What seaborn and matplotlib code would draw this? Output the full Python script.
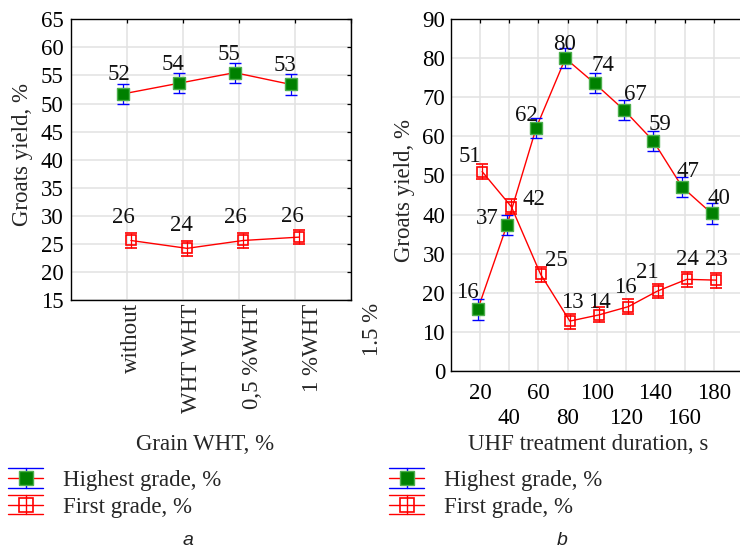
import numpy as np
import pandas as pd
import matplotlib
matplotlib.use("Agg")
import matplotlib.pyplot as plt
import matplotlib.transforms as mtransforms
from matplotlib.legend_handler import HandlerBase
from matplotlib.lines import Line2D
import seaborn as sns

# ---------------- data ----------------
# panel a
wht_labels = ["without", "WHT WHT", "0,5 %WHT", "1 %WHT", "1.5 %"]
wht_pos = [1, 2, 3, 4]
a_highest = [51.7, 53.6, 55.5, 53.4]
a_highest_err = [1.8, 1.8, 1.8, 1.8]
a_highest_text = ["52", "54", "55", "53"]
a_first = [25.6, 24.2, 25.6, 26.2]
a_first_err = [1.3, 1.3, 1.3, 1.3]
a_first_text = ["26", "24", "26", "26"]

# panel b
uhf_time = [20, 40, 60, 80, 100, 120, 140, 160, 180]
b_highest = [15.7, 37.3, 62.2, 80.0, 73.6, 66.8, 58.9, 47.0, 40.3]
b_highest_err = [2.6, 2.6, 2.6, 2.6, 2.6, 2.6, 2.6, 2.6, 2.6]
b_highest_text = ["16", "37", "62", "80", "74", "67", "59", "47", "40"]
b_first = [51.0, 42.0, 24.7, 12.7, 14.3, 16.4, 20.4, 23.4, 23.2]
b_first_err = [1.9, 1.9, 1.9, 1.9, 1.9, 1.9, 1.9, 1.9, 1.9]
b_first_text = ["51", "42", "25", "13", "14", "16", "21", "24", "23"]

series_names = ["Highest grade, %", "First grade, %"]

# ---------------- layout (label offsets in pixels) ----------------
a_highest_off = [(-4, -22.3), (-5.4, -21.6), (-5.8, -20.7), (-5.8, -21.3)]
a_first_off = [(-8, -25.4), (-6, -25), (-7.6, -25.4), (-7, -23.5)]
b_highest_off = [(-10, -19.3), (-20, -9.3), (-10.2, -14.4), (-0.7, -16.6), (8.7, -20),
                 (11, -17.7), (7.2, -18.4), (5.7, -18.3), (7.7, -17.6)]
b_first_off = [(-12.5, -17.4), (22.6, -10), (15.5, -16.6), (2.2, -21), (0.7, -15),
               (-3.2, -21.7), (-9.7, -21), (1, -22.6), (0.3, -23.3)]

W, H = 740, 549
FS = 16.5
sns.set_style("white")
plt.rcParams['font.family'] = ['Liberation Serif', 'DejaVu Serif']
plt.rcParams['axes.linewidth'] = 1.0

fig = plt.figure(figsize=(W / 100, H / 100), dpi=100)


def px_axes(x0, y0, x1, y1):
    return fig.add_axes([x0 / W, 1 - y1 / H, (x1 - x0) / W, (y1 - y0) / H])


axA = px_axes(70.7, 19.3, 351.0, 300.0)
axB = px_axes(450.7, 19.3, 743.0, 370.7)

GREEN_FACE = '#008000'
GREEN_EDGE = '#4cae4c'
BLUE = '#0000ff'
RED = '#ff0000'


def draw_series(ax, x, y, err, kind, texts, offs):
    df = pd.DataFrame({"x": x, "y": y})
    sns.lineplot(data=df, x="x", y="y", ax=ax, color=RED, lw=1.0, zorder=3,
                 estimator=None, sort=False)
    if kind == "highest":
        ax.errorbar(x, y, yerr=err, fmt='s', ms=8, mfc=GREEN_FACE, mec=GREEN_EDGE,
                    mew=1.0, ecolor=BLUE, elinewidth=0.9, capsize=4.5, capthick=0.9,
                    zorder=4)
    else:
        ax.errorbar(x, y, yerr=err, fmt='s', ms=7.5, mfc='none', mec=RED,
                    mew=1.2, ecolor=RED, elinewidth=0.9, capsize=4.5, capthick=0.9,
                    zorder=4)
    for xi, yi, t, (dx, dy) in zip(x, y, texts, offs):
        ax.annotate(t, (xi, yi), xytext=(dx * 0.72, -dy * 0.72), textcoords='offset points',
                    ha='center', va='center_baseline', fontsize=FS, color='#111111', zorder=6)


def style_axes(ax):
    for s in ax.spines.values():
        s.set_color('black')
        s.set_linewidth(1.0)
    ax.tick_params(direction='in', length=3, width=0.9, top=True, right=True,
                   labelsize=FS, colors='black', which='both')
    ax.set_xlabel("")
    ax.set_ylabel("")
    ax.set_axisbelow(True)


# ---------------- panel a ----------------
dA = 0.075
draw_series(axA, [p - dA for p in wht_pos], a_highest, a_highest_err, "highest",
            a_highest_text, a_highest_off)
draw_series(axA, [p + dA for p in wht_pos], a_first, a_first_err, "first",
            a_first_text, a_first_off)
axA.set_xlim(0, 5)
axA.set_ylim(15, 65)
axA.set_yticks(np.arange(15, 66, 5))
axA.set_xticks([1, 2, 3, 4, 5])
axA.grid(True, color='#e2e2e2', lw=1.1)
style_axes(axA)
axA.tick_params(axis='x', labelbottom=False)
axA.tick_params(axis='y', pad=5)
trA = mtransforms.blended_transform_factory(axA.transData, axA.transAxes) + \
    mtransforms.ScaledTranslation(0, -3.3 / 100, fig.dpi_scale_trans)
for i, lab in enumerate(wht_labels):
    axA.text(1.088 + 1.075 * i, 0, lab, transform=trA, rotation=90, ha='center', va='top',
             fontsize=FS, clip_on=False)

# ---------------- panel b ----------------
dB = 1.5
draw_series(axB, [t - dB for t in uhf_time], b_highest, b_highest_err, "highest",
            b_highest_text, b_highest_off)
draw_series(axB, [t + dB for t in uhf_time], b_first, b_first_err, "first",
            b_first_text, b_first_off)
axB.set_xlim(0, 200)
axB.set_ylim(0, 90)
axB.set_yticks(np.arange(0, 91, 10))
axB.set_xticks(uhf_time[0::2])
axB.set_xticks(uhf_time[1::2], minor=True)
axB.set_xticklabels([str(t) for t in uhf_time[0::2]])
axB.set_xticklabels([str(t) for t in uhf_time[1::2]], minor=True)
axB.grid(True, which='both', axis='x', color='#e2e2e2', lw=1.1)
axB.grid(True, which='major', axis='y', color='#e2e2e2', lw=1.1)
style_axes(axB)
axB.spines['right'].set_visible(False)
axB.tick_params(axis='y', right=False)
axB.tick_params(axis='x', which='major', pad=9)
axB.tick_params(axis='x', which='minor', pad=26.5)
axB.tick_params(axis='y', pad=4)

# ---------------- axis labels ----------------
fig.text(22.5 / W, 1 - 155 / H, "Groats yield, %", rotation=90, ha='center', va='center', fontsize=FS)
fig.text(404.3 / W, 1 - 190 / H, "Groats yield, %", rotation=90, ha='center', va='center', fontsize=FS)
fig.text(204.7 / W, 1 - 445 / H, "Grain WHT, %", ha='center', va='center', fontsize=FS)
fig.text(588 / W, 1 - 445 / H, "UHF treatment duration, s", ha='center', va='center', fontsize=FS)
fig.text(187.7 / W, 0.0, "a", ha='center', va='bottom', fontsize=14,
         family=['Liberation Sans', 'DejaVu Sans'], style='italic', color='#222222')
fig.text(561.7 / W, 0.0, "b", ha='center', va='bottom', fontsize=14,
         family=['Liberation Sans', 'DejaVu Sans'], style='italic', color='#222222')


# ---------------- legends ----------------
class GradeHandler(HandlerBase):
    def __init__(self, err_color, face, edge):
        super().__init__()
        self.err_color = err_color
        self.face = face
        self.edge = edge

    def create_artists(self, legend, orig_handle, xdescent, ydescent, width, height,
                       fontsize, trans):
        x0 = -xdescent
        x1 = x0 + width
        cx = x0 + width / 2
        cy = -ydescent + height / 2
        d = 6.9
        arts = []
        for yy, c in [(cy + d, self.err_color), (cy, RED), (cy - d, self.err_color)]:
            arts.append(Line2D([x0, x1], [yy, yy], color=c, lw=1.0))
        arts.append(Line2D([cx, cx], [cy - d, cy + d], color=self.err_color, lw=1.0))
        arts.append(Line2D([cx], [cy], marker='s', ms=10, mfc=self.face, mec=self.edge,
                           mew=1.2 if self.face == 'none' else 1.0, ls='none'))
        for a in arts:
            a.set_transform(trans)
        return arts


for ax, lx in [(axA, 8.3), (axB, 389.3)]:
    h1 = Line2D([], [])
    h2 = Line2D([], [])
    ax.legend([h1, h2], series_names, loc='upper left',
              bbox_to_anchor=(lx / W, 1 - 470.0 / H), bbox_transform=fig.transFigure,
              frameon=False, borderaxespad=0, borderpad=0, fontsize=FS,
              handlelength=1.53, handletextpad=0.86, labelspacing=0.25,
              handler_map={h1: GradeHandler(BLUE, GREEN_FACE, GREEN_EDGE),
                           h2: GradeHandler(RED, 'none', RED)})

fig.savefig("out.png", dpi=100)
